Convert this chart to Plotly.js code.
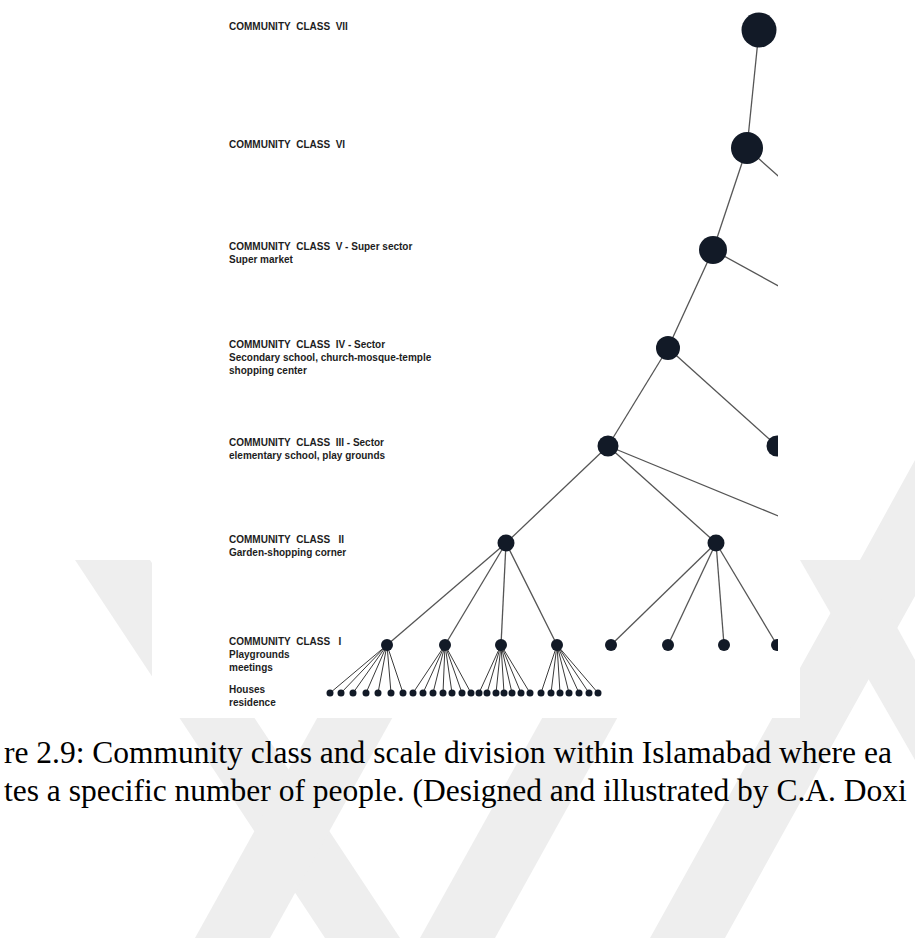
<!DOCTYPE html>
<html><head><meta charset="utf-8">
<script src="https://cdn.plot.ly/plotly-3.0.1.min.js"></script>
<style>html,body{margin:0;padding:0;background:#fff;}#chart{width:915px;height:938px;}</style>
</head><body><div id="chart"></div>
<script>
// ---- DATA -------------------------------------------------------------
// hierarchy levels (row position of each community class, top to bottom)
const levelNames = ['VII', 'VI', 'V', 'IV', 'III', 'II', 'I', 'Houses'];
const levelY = [30, 148, 250, 348, 446, 543, 645, 693];
// label lines for each level
const levelLabels = [
  ['COMMUNITY\u00a0\u00a0CLASS\u00a0\u00a0VII'],
  ['COMMUNITY\u00a0\u00a0CLASS\u00a0\u00a0VI'],
  ['COMMUNITY\u00a0\u00a0CLASS\u00a0\u00a0V - Super sector', 'Super market'],
  ['COMMUNITY\u00a0\u00a0CLASS\u00a0\u00a0IV - Sector', 'Secondary school, church-mosque-temple', 'shopping center'],
  ['COMMUNITY\u00a0\u00a0CLASS\u00a0\u00a0III - Sector', 'elementary school, play grounds'],
  ['COMMUNITY\u00a0\u00a0CLASS\u00a0\u00a0\u00a0II', 'Garden-shopping corner'],
  ['COMMUNITY\u00a0\u00a0CLASS\u00a0\u00a0\u00a0I', 'Playgrounds', 'meetings'],
  ['Houses', 'residence']
];
// community nodes: level index, horizontal position, parent node index
const nodeLevel  = [0,   1,   2,   3,   4,   5,   5,   6,   6,   6,   6,   6,   6,   6,   6,   2,   3,   4,   5];
const nodeX      = [759, 747, 713, 668, 608, 506, 716, 387, 445, 501, 557, 611, 668, 724, 777, 860, 891, 777, 844];
const nodeParent = [-1,  0,   1,   2,   3,   4,   4,   5,   5,   5,   5,   6,   6,   6,   6,   1,   2,   3,   4];
// houses (level 7): horizontal positions and the class-I node each belongs to
const houseX = [330, 341, 353, 366, 378, 391, 403,
                413, 423, 433, 443, 452, 462, 471,
                479, 487, 496, 504, 512, 521, 530,
                541, 551, 560, 569, 579, 589, 598];
const houseParent = [7,7,7,7,7,7,7, 8,8,8,8,8,8,8, 9,9,9,9,9,9,9, 10,10,10,10,10,10,10];
const captionLines = [
  're 2.9: Community class and scale division within Islamabad where ea',
  'tes a specific number of people. (Designed and illustrated by C.A. Doxi'
];

// ---- STYLE ------------------------------------------------------------
const W = 915, H = 938, CUT = 778;            // scan is cropped at CUT
const nodeColor = '#121a27';
const levelDiam = [35, 32, 28, 24, 21, 17, 12, 7];

// edges
const ex = [], ey = [];
nodeParent.forEach((p, i) => {
  if (p < 0) return;
  ex.push(nodeX[p], nodeX[i], null);
  ey.push(levelY[nodeLevel[p]], levelY[nodeLevel[i]], null);
});
const hx = [], hy = [];
houseX.forEach((x, i) => {
  const p = houseParent[i];
  hx.push(nodeX[p], x, null);
  hy.push(levelY[nodeLevel[p]], levelY[7], null);
});

const traces = [
  {x: ex, y: ey, mode: 'lines', line: {color: '#555555', width: 1.3}, hoverinfo: 'skip', cliponaxis: true},
  {x: hx, y: hy, mode: 'lines', line: {color: '#3a3a3a', width: 1}, hoverinfo: 'skip', cliponaxis: true},
  {x: nodeX, y: nodeLevel.map(l => levelY[l]), mode: 'markers', cliponaxis: true,
   marker: {color: nodeColor, opacity: 1, size: nodeLevel.map(l => levelDiam[l]), line: {width: 0}}, hoverinfo: 'skip'},
  {x: houseX, y: houseX.map(() => levelY[7]), mode: 'markers', cliponaxis: true,
   marker: {color: nodeColor, opacity: 1, size: levelDiam[7], line: {width: 0}}, hoverinfo: 'skip'}
];

// labels (one multi-line text per class)
const annotations = levelLabels.map((lines, li) => ({
  x: 228, y: levelY[li] - 10.5, xref: 'x', yref: 'y', text: lines.join('<br>'),
  showarrow: false, xanchor: 'left', yanchor: 'top', align: 'left', borderpad: 0,
  font: {family: 'Liberation Sans, Arial, sans-serif', size: 10, color: '#1d1d1d', weight: 'bold'}
}));
captionLines.forEach((t, k) => {
  annotations.push({x: 2 / W, y: 1 - (752 + k * 38) / H, xref: 'paper', yref: 'paper', text: t,
    showarrow: false, xanchor: 'left', yanchor: 'middle',
    font: {family: 'Liberation Serif, Times New Roman, serif', size: 31.5, color: '#000'}});
});

// watermark bands (decorative) + white figure background
const px = (x) => (x / W).toFixed(4), py = (y) => (1 - y / H).toFixed(4);
function poly(pts) { return 'M' + pts.map(p => px(p[0]) + ',' + py(p[1])).join('L') + 'Z'; }
const wm = '#eeeeee';
const bands = [
  [[75, 560], [150, 560], [400, 938], [325, 938]],
  [[195, 938], [270, 938], [480, 560], [405, 560]],
  [[420, 938], [495, 938], [705, 560], [630, 560]],
  [[650, 938], [725, 938], [915, 596], [915, 460], [860, 560]],
  [[800, 560], [860, 560], [915, 660], [915, 760]]
];
const shapes = bands.map(b => ({type: 'path', xref: 'paper', yref: 'paper', path: poly(b),
  fillcolor: wm, line: {width: 0}, layer: 'below'}));
shapes.push({type: 'rect', xref: 'paper', yref: 'paper', x0: px(152), x1: px(800), y0: py(718), y1: py(0),
  fillcolor: '#ffffff', line: {width: 0}, layer: 'below'});

const layout = {
  width: W, height: H, margin: {l: 0, r: 0, t: 0, b: 0, pad: 0},
  paper_bgcolor: '#ffffff', plot_bgcolor: 'rgba(0,0,0,0)', showlegend: false,
  xaxis: {domain: [0, CUT / W], range: [0, CUT], visible: false, fixedrange: true},
  yaxis: {domain: [0, 1], range: [H, 0], visible: false, fixedrange: true},
  annotations, shapes
};
Plotly.newPlot('chart', traces, layout, {staticPlot: true, displayModeBar: false});
</script></body></html>
